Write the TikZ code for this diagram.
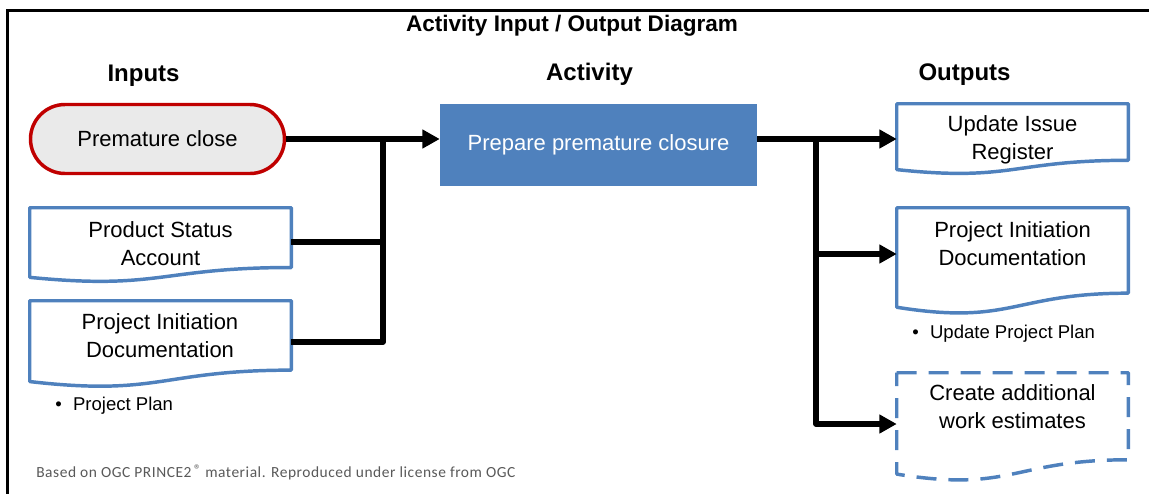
\documentclass[tikz,border=0pt]{standalone}
\usepackage{fontspec}
\setmainfont{Liberation Sans}
\newfontfamily\calibrifont[LetterSpace=3.5]{Carlito}
\usetikzlibrary{arrows.meta,calc,shapes.misc}
\definecolor{pblue}{HTML}{4F81BD}
\definecolor{pred}{HTML}{C00000}
\definecolor{pgray}{HTML}{EAEAEA}
\definecolor{ftgray}{HTML}{595959}
\newcommand\docshape[2]{%
  \draw[#2] (#1.north west) -- (#1.north east) -- ($(#1.north east)!0.802!(#1.south east)$)
    .. controls ($(#1.north)!0.802!(#1.south)$) and ($(#1.north)!1.1075!(#1.south)$) ..
    ($(#1.north west)!0.934!(#1.south west)$) -- cycle;}
\begin{document}
\begin{tikzpicture}[x=0.75pt,y=-0.75pt,
  frameline/.style={line width=2.25pt, black},
  heading/.style={font=\fontsize{18}{22}\selectfont\bfseries, inner sep=0pt, anchor=base},
  titletext/.style={font=\fontsize{16.9}{20}\selectfont\bfseries, inner sep=0pt, anchor=base},
  body/.style={font=\fontsize{16.5}{21}\selectfont, align=center, inner sep=0pt},
  bul/.style={font=\fontsize{13.9}{16}\selectfont, inner sep=0pt, anchor=base west},
  docbox/.style={draw=none, inner sep=0pt, minimum width=#1},
  docline/.style={draw=pblue, line width=2.6pt, line join=round},
  dashdoc/.style={docline, dash pattern=on 15pt off 9pt},
  conn/.style={line width=4pt, black, line join=round},
  arr/.style={conn, -{Triangle[length=13pt, width=13.5pt]}},
]
\useasboundingbox (0,0) rectangle (1149,494);
% frame
\draw[frameline] (7.5,10) -- (1149,10);
\draw[frameline] (7.5,9) -- (7.5,494);

% title and headings
\node[titletext] (title) at (572,31) {Activity Input / Output Diagram};
\node[heading] (hin) at (143.5,81) {Inputs};
\node[heading] (hact) at (589.5,80) {Activity};
\node[heading] (hout) at (964.5,80) {Outputs};

% inputs
\node[rounded rectangle, draw=pred, fill=pgray, line width=2.6pt,
      minimum width=254*0.75pt, minimum height=69*0.75pt, body] (pc) at (157.5,139) {Premature close};

\node[docbox=261*0.75pt, minimum height=74*0.75pt] (psa) at (160.5,245) {};
\docshape{psa}{docline}
\node[body] (psat) at (160.5,244) {Product Status\\Account};

\node[docbox=261*0.75pt, minimum height=86*0.75pt] (pidin) at (160.5,344) {};
\docshape{pidin}{docline}
\node[body] (pidint) at (160,336) {Project Initiation\\Documentation};
\node[bul] (bin) at (55,410) {\textbullet\hspace{8.5pt}Project Plan};

% activity
\node[fill=pblue, text=white, body, minimum width=317*0.75pt, minimum height=82*0.75pt] (act) at (598.5,145) {Prepare premature closure};

% outputs
\node[docbox=231*0.75pt, minimum height=70*0.75pt] (uir) at (1012.5,139) {};
\docshape{uir}{docline}
\node[body] (uirt) at (1012.5,139.5) {Update Issue\\Register};

\node[docbox=231*0.75pt, minimum height=106*0.75pt] (pidout) at (1012.5,261) {};
\docshape{pidout}{docline}
\node[body] (pidoutt) at (1012.5,243.5) {Project Initiation\\Documentation};
\node[bul] (bout) at (912,338) {\textbullet\hspace{8.5pt}Update Project Plan};

\node[docbox=231*0.75pt, minimum height=108*0.75pt] (cawe) at (1012.5,427) {};
\docshape{cawe}{dashdoc}
\node[body] (cawet) at (1012.5,407) {Create additional\\work estimates};

% footnote
\node[anchor=base west, font=\calibrifont\fontsize{11.6}{13}\selectfont, text=ftgray, inner sep=0pt] (fn) at (36,477)
  {Based on OGC PRINCE2\,\raisebox{0.3ex}{\fontsize{10.5}{11}\selectfont ®} material. Reproduced under license from OGC};

% connectors in
\coordinate (jin) at (383,139);
\draw[arr] (pc.east) -- (pc.east -| act.west);
\draw[conn] ([yshift=2.25pt]psa.east) -| (jin);
\draw[conn] ([yshift=1.5pt]pidin.east) -| (jin);

% connectors out
\coordinate (jout) at (816,139);
\draw[arr] (uir.west -| act.east) -- (uir.west);
\draw[arr] (jout) |- ([yshift=5.25pt]pidout.west);
\draw[arr] (jout) |- ([yshift=2.25pt]cawe.west);
\end{tikzpicture}
\end{document}
